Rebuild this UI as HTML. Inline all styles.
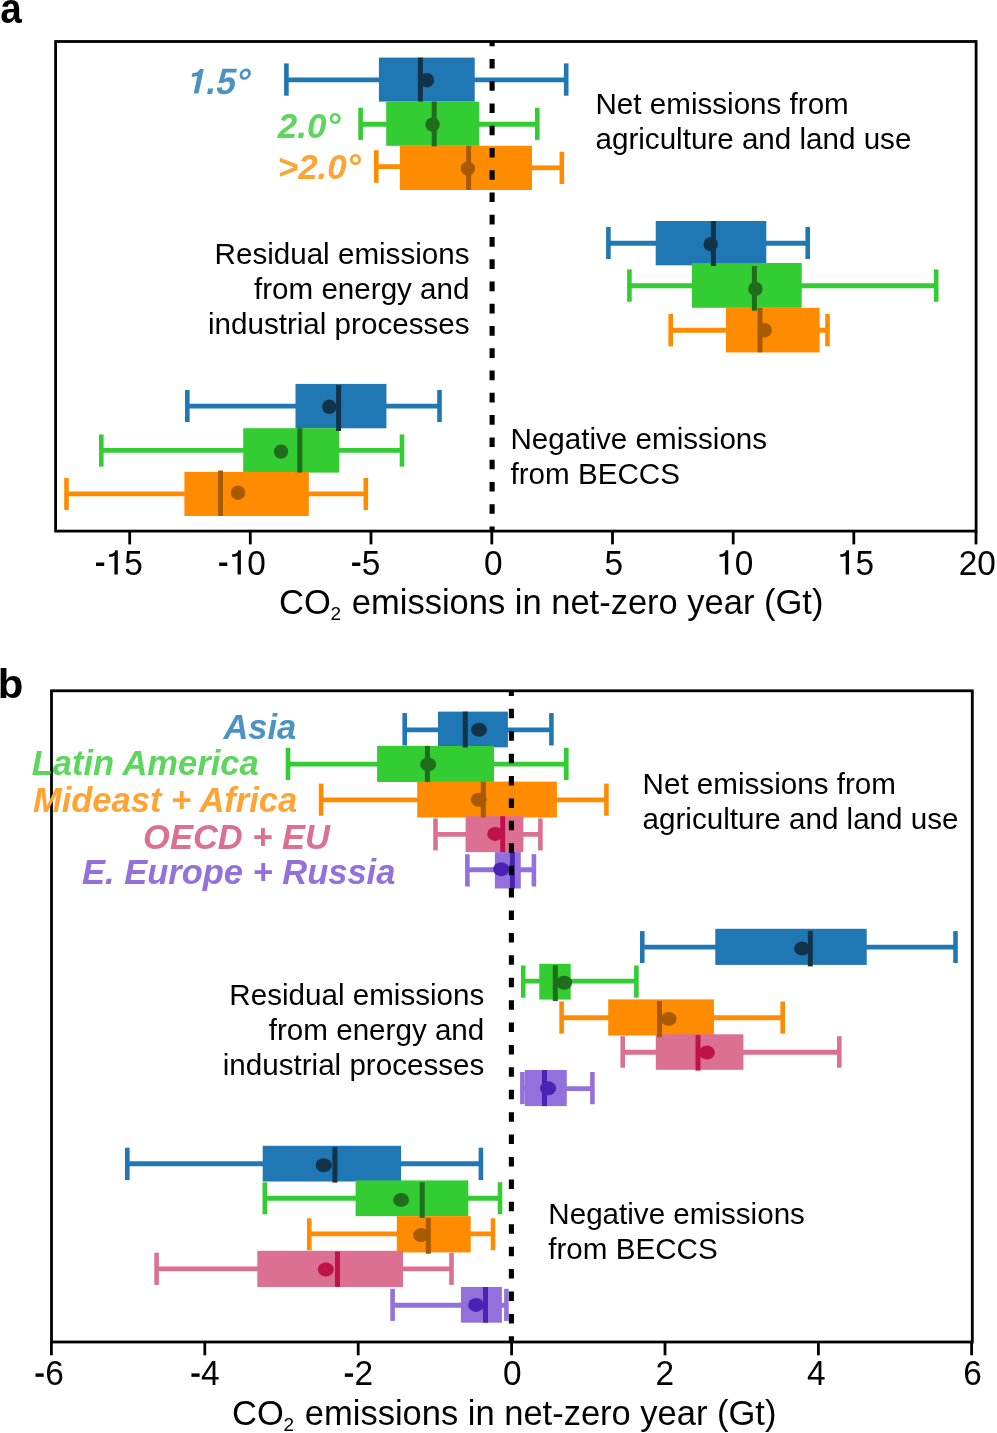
<!DOCTYPE html>
<html><head><meta charset="utf-8"><style>
html,body{margin:0;padding:0;background:#fff;width:997px;height:1433px;overflow:hidden;}
svg{display:block;will-change:transform;}
text{font-family:"Liberation Sans",sans-serif;}
</style></head><body>
<svg width="997" height="1433" viewBox="0 0 997 1433">
<rect width="997" height="1433" fill="#fff"/>
<line x1="286.4" y1="79.85" x2="566.2" y2="79.85" stroke="#1f77b4" stroke-width="4.8"/>
<line x1="286.4" y1="63.4" x2="286.4" y2="95.7" stroke="#1f77b4" stroke-width="4.6"/>
<line x1="566.2" y1="63.4" x2="566.2" y2="95.7" stroke="#1f77b4" stroke-width="4.6"/>
<line x1="360.6" y1="124.25" x2="537.3" y2="124.25" stroke="#33cc33" stroke-width="4.8"/>
<line x1="360.6" y1="107.7" x2="360.6" y2="139.9" stroke="#33cc33" stroke-width="4.6"/>
<line x1="537.3" y1="107.7" x2="537.3" y2="139.9" stroke="#33cc33" stroke-width="4.6"/>
<line x1="376.3" y1="166.6" x2="400.9" y2="166.6" stroke="#ff8c00" stroke-width="4.8"/>
<line x1="531" y1="167.8" x2="561.8" y2="167.8" stroke="#ff8c00" stroke-width="4.8"/>
<line x1="376.3" y1="150.2" x2="376.3" y2="182.8" stroke="#ff8c00" stroke-width="4.6"/>
<line x1="561.8" y1="151.8" x2="561.8" y2="184" stroke="#ff8c00" stroke-width="4.6"/>
<line x1="608.4" y1="243.25" x2="807.7" y2="243.25" stroke="#1f77b4" stroke-width="4.8"/>
<line x1="608.4" y1="227" x2="608.4" y2="259" stroke="#1f77b4" stroke-width="4.6"/>
<line x1="807.7" y1="227" x2="807.7" y2="259" stroke="#1f77b4" stroke-width="4.6"/>
<line x1="629.4" y1="285.75" x2="936.2" y2="285.75" stroke="#33cc33" stroke-width="4.8"/>
<line x1="629.4" y1="269.4" x2="629.4" y2="301.8" stroke="#33cc33" stroke-width="4.6"/>
<line x1="936.2" y1="269.4" x2="936.2" y2="301.8" stroke="#33cc33" stroke-width="4.6"/>
<line x1="670.7" y1="330.25" x2="827.5" y2="330.25" stroke="#ff8c00" stroke-width="4.8"/>
<line x1="670.7" y1="313.9" x2="670.7" y2="346.3" stroke="#ff8c00" stroke-width="4.6"/>
<line x1="827.5" y1="313.9" x2="827.5" y2="346.3" stroke="#ff8c00" stroke-width="4.6"/>
<line x1="187.3" y1="406.05" x2="439.5" y2="406.05" stroke="#1f77b4" stroke-width="4.8"/>
<line x1="187.3" y1="390" x2="187.3" y2="422.1" stroke="#1f77b4" stroke-width="4.6"/>
<line x1="439.5" y1="390" x2="439.5" y2="422.1" stroke="#1f77b4" stroke-width="4.6"/>
<line x1="101.3" y1="450.45" x2="402" y2="450.45" stroke="#33cc33" stroke-width="4.8"/>
<line x1="101.3" y1="434.5" x2="101.3" y2="466.6" stroke="#33cc33" stroke-width="4.6"/>
<line x1="402" y1="434.5" x2="402" y2="466.6" stroke="#33cc33" stroke-width="4.6"/>
<line x1="66.5" y1="493.95" x2="365.8" y2="493.95" stroke="#ff8c00" stroke-width="4.8"/>
<line x1="66.5" y1="477.9" x2="66.5" y2="510.1" stroke="#ff8c00" stroke-width="4.6"/>
<line x1="365.8" y1="477.9" x2="365.8" y2="510.1" stroke="#ff8c00" stroke-width="4.6"/>
<rect x="378.9" y="57.6" width="95.8" height="44" fill="#1f77b4"/>
<rect x="386.2" y="101.6" width="93.1" height="44.2" fill="#33cc33"/>
<rect x="399.9" y="145.8" width="132.1" height="44.2" fill="#ff8c00"/>
<rect x="655.7" y="221" width="110.6" height="44.3" fill="#1f77b4"/>
<rect x="692" y="263" width="109.7" height="44.8" fill="#33cc33"/>
<rect x="725.9" y="307.8" width="93.7" height="44.6" fill="#ff8c00"/>
<rect x="295.5" y="383.9" width="90.9" height="44.4" fill="#1f77b4"/>
<rect x="243.2" y="428.2" width="96" height="44.4" fill="#33cc33"/>
<rect x="184.4" y="471.9" width="124.4" height="44.1" fill="#ff8c00"/>
<line x1="420.4" y1="57.6" x2="420.4" y2="101.6" stroke="#12344b" stroke-width="5.0"/>
<line x1="434.2" y1="101.6" x2="434.2" y2="146.4" stroke="#1e6e1e" stroke-width="5.0"/>
<line x1="468.6" y1="145.8" x2="468.6" y2="190" stroke="#a85a00" stroke-width="5.0"/>
<line x1="713.4" y1="221" x2="713.4" y2="266" stroke="#12344b" stroke-width="5.0"/>
<line x1="754.4" y1="266" x2="754.4" y2="310.7" stroke="#1e6e1e" stroke-width="5.0"/>
<line x1="760" y1="307.8" x2="760" y2="352.4" stroke="#a85a00" stroke-width="5.0"/>
<line x1="338.6" y1="385" x2="338.6" y2="431" stroke="#12344b" stroke-width="5.0"/>
<line x1="299.8" y1="428.2" x2="299.8" y2="472.6" stroke="#1e6e1e" stroke-width="5.0"/>
<line x1="220.5" y1="470.5" x2="220.5" y2="516" stroke="#a85a00" stroke-width="5.0"/>
<ellipse cx="427" cy="80.2" rx="7.2" ry="7.2" fill="#12344b"/>
<ellipse cx="432.6" cy="124.6" rx="7.2" ry="7.2" fill="#1e6e1e"/>
<ellipse cx="467.9" cy="168.6" rx="7.2" ry="7.2" fill="#a85a00"/>
<ellipse cx="710.7" cy="244.2" rx="7.2" ry="7.2" fill="#12344b"/>
<ellipse cx="755.4" cy="288.9" rx="7.2" ry="7.2" fill="#1e6e1e"/>
<ellipse cx="764.7" cy="330.2" rx="7.2" ry="7.2" fill="#a85a00"/>
<ellipse cx="329.3" cy="406.8" rx="7.2" ry="7.2" fill="#12344b"/>
<ellipse cx="281" cy="451.6" rx="7.2" ry="7.2" fill="#1e6e1e"/>
<ellipse cx="238" cy="492.7" rx="7.2" ry="7.2" fill="#a85a00"/>
<line x1="492.1" y1="41.5" x2="492.1" y2="531.1" stroke="#000" stroke-width="5.1" stroke-dasharray="9.6 12.66" stroke-dashoffset="4.8"/>
<rect x="55.6" y="41.5" width="920.5" height="489.6" fill="none" stroke="#000" stroke-width="2.8"/>
<line x1="129.7" y1="531.1" x2="129.7" y2="544.4" stroke="#000" stroke-width="2.8"/>
<line x1="250.3" y1="531.1" x2="250.3" y2="544.4" stroke="#000" stroke-width="2.8"/>
<line x1="371" y1="531.1" x2="371" y2="544.4" stroke="#000" stroke-width="2.8"/>
<line x1="491.8" y1="531.1" x2="491.8" y2="544.4" stroke="#000" stroke-width="2.8"/>
<line x1="612.5" y1="531.1" x2="612.5" y2="544.4" stroke="#000" stroke-width="2.8"/>
<line x1="733.2" y1="531.1" x2="733.2" y2="544.4" stroke="#000" stroke-width="2.8"/>
<line x1="853.8" y1="531.1" x2="853.8" y2="544.4" stroke="#000" stroke-width="2.8"/>
<line x1="976" y1="531.1" x2="976" y2="544.4" stroke="#000" stroke-width="2.8"/>
<g transform="translate(0 574.5) scale(1 1.035)"><rect x="96.04" y="-11.56" width="8.18" height="3.34"/>
<path d="M114.44 0 L117.78 0 L117.78 -23.48 L115.31 -23.48 C114.78 -21.38 113.24 -19.71 109.06 -19.51 L109.06 -17.03 C112.24 -17.17 113.84 -17.64 114.44 -18.44 Z"/>
<text x="124.26" y="0" font-family="Liberation Sans" font-size="33.4">5</text>
<rect x="219.14" y="-11.56" width="8.18" height="3.34"/>
<path d="M237.54 0 L240.88 0 L240.88 -23.48 L238.41 -23.48 C237.88 -21.38 236.34 -19.71 232.16 -19.51 L232.16 -17.03 C235.34 -17.17 236.94 -17.64 237.54 -18.44 Z"/>
<text x="247.36" y="0" font-family="Liberation Sans" font-size="33.4">0</text>
<rect x="352.12" y="-11.56" width="8.18" height="3.34"/>
<text x="361.78" y="0" font-family="Liberation Sans" font-size="33.4">5</text>
<text x="484.01" y="0" font-family="Liberation Sans" font-size="33.4">0</text>
<text x="604.41" y="0" font-family="Liberation Sans" font-size="33.4">5</text>
<path d="M724.88 0 L728.22 0 L728.22 -23.48 L725.75 -23.48 C725.21 -21.38 723.68 -19.71 719.5 -19.51 L719.5 -17.03 C722.68 -17.17 724.28 -17.64 724.88 -18.44 Z"/>
<text x="734.7" y="0" font-family="Liberation Sans" font-size="33.4">0</text>
<path d="M845.68 0 L849.02 0 L849.02 -23.48 L846.55 -23.48 C846.01 -21.38 844.48 -19.71 840.3 -19.51 L840.3 -17.03 C843.48 -17.17 845.08 -17.64 845.68 -18.44 Z"/>
<text x="855.5" y="0" font-family="Liberation Sans" font-size="33.4">5</text>
<text x="958.63" y="0" font-family="Liberation Sans" font-size="33.4">2</text>
<text x="977.2" y="0" font-family="Liberation Sans" font-size="33.4">0</text></g>
<text y="613.7" font-family="Liberation Sans" font-size="34.5"><tspan x="279">CO</tspan><tspan x="330.6" y="620.1" font-size="19">2</tspan><tspan x="351.8" y="613.7">emissions in net-zero year (Gt)</tspan></text>
<text x="595.5" y="113.6" font-family="Liberation Sans" font-size="29.6" text-anchor="start">Net emissions from</text>
<text x="595.5" y="148.6" font-family="Liberation Sans" font-size="29.6" text-anchor="start">agriculture and land use</text>
<text x="469.5" y="263.7" font-family="Liberation Sans" font-size="29.6" text-anchor="end">Residual emissions</text>
<text x="469.5" y="298.7" font-family="Liberation Sans" font-size="29.6" text-anchor="end">from energy and</text>
<text x="469.5" y="333.7" font-family="Liberation Sans" font-size="29.6" text-anchor="end">industrial processes</text>
<text x="510.5" y="449.3" font-family="Liberation Sans" font-size="29.6" text-anchor="start">Negative emissions</text>
<text x="510.5" y="484.3" font-family="Liberation Sans" font-size="29.6" text-anchor="start">from BECCS</text>
<g transform="translate(184.3 93.6) skewX(-12)" fill="rgb(76,146,195)"><path d="M9.35 0 L14.25 0 L14.25 -24.71 L10.33 -24.71 C9.73 -22.4 8.12 -20.72 3.82 -20.51 L3.82 -16.66 C6.65 -16.8 8.47 -17.15 9.35 -17.78 Z"/><text transform="scale(1 1.045)" x="20.46" y="0" font-family="Liberation Sans" font-weight="bold" font-size="35">.5°</text></g>
<g transform="translate(0 137.7) scale(1 1.0)"><text x="340.4" y="0" font-family="Liberation Sans" font-weight="bold" font-style="italic" font-size="35" text-anchor="end" fill="rgb(92,214,92)">2.0°</text></g>
<g transform="translate(0 179) scale(1 1.0)"><text x="360.8" y="0" font-family="Liberation Sans" font-weight="bold" font-style="italic" font-size="35" text-anchor="end" fill="rgb(255,163,51)">&gt;2.0°</text></g>
<text transform="translate(0.3 23.2) scale(0.92 1.015)" x="0" y="0" font-family="Liberation Sans" font-weight="bold" font-size="42">a</text>
<line x1="404.7" y1="729.85" x2="551.4" y2="729.85" stroke="#1f77b4" stroke-width="4.8"/>
<line x1="404.7" y1="713.1" x2="404.7" y2="745.5" stroke="#1f77b4" stroke-width="4.6"/>
<line x1="551.4" y1="713.1" x2="551.4" y2="745.5" stroke="#1f77b4" stroke-width="4.6"/>
<line x1="288" y1="764.05" x2="566.3" y2="764.05" stroke="#33cc33" stroke-width="4.8"/>
<line x1="288" y1="747.8" x2="288" y2="780" stroke="#33cc33" stroke-width="4.6"/>
<line x1="566.3" y1="747.8" x2="566.3" y2="780" stroke="#33cc33" stroke-width="4.6"/>
<line x1="321.1" y1="799.85" x2="606.4" y2="799.85" stroke="#ff8c00" stroke-width="4.8"/>
<line x1="321.1" y1="783.6" x2="321.1" y2="815.8" stroke="#ff8c00" stroke-width="4.6"/>
<line x1="606.4" y1="783.6" x2="606.4" y2="815.8" stroke="#ff8c00" stroke-width="4.6"/>
<line x1="435.5" y1="834.45" x2="540.4" y2="834.45" stroke="#db7093" stroke-width="4.8"/>
<line x1="435.5" y1="818.4" x2="435.5" y2="850.4" stroke="#db7093" stroke-width="4.6"/>
<line x1="540.4" y1="818.4" x2="540.4" y2="850.4" stroke="#db7093" stroke-width="4.6"/>
<line x1="467.4" y1="869.75" x2="533.9" y2="869.75" stroke="#9370db" stroke-width="4.8"/>
<line x1="467.4" y1="854.2" x2="467.4" y2="886.5" stroke="#9370db" stroke-width="4.6"/>
<line x1="533.9" y1="854.2" x2="533.9" y2="886.5" stroke="#9370db" stroke-width="4.6"/>
<line x1="642.3" y1="947.15" x2="955.5" y2="947.15" stroke="#1f77b4" stroke-width="4.8"/>
<line x1="642.3" y1="931.1" x2="642.3" y2="963" stroke="#1f77b4" stroke-width="4.6"/>
<line x1="955.5" y1="931.1" x2="955.5" y2="963" stroke="#1f77b4" stroke-width="4.6"/>
<line x1="523.2" y1="981.15" x2="636.4" y2="981.15" stroke="#33cc33" stroke-width="4.8"/>
<line x1="523.2" y1="965.5" x2="523.2" y2="997.7" stroke="#33cc33" stroke-width="4.6"/>
<line x1="636.4" y1="965.5" x2="636.4" y2="997.7" stroke="#33cc33" stroke-width="4.6"/>
<line x1="561.6" y1="1017.75" x2="782.7" y2="1017.75" stroke="#ff8c00" stroke-width="4.8"/>
<line x1="561.6" y1="1001.5" x2="561.6" y2="1033.7" stroke="#ff8c00" stroke-width="4.6"/>
<line x1="782.7" y1="1001.5" x2="782.7" y2="1033.7" stroke="#ff8c00" stroke-width="4.6"/>
<line x1="622.7" y1="1052.25" x2="839.3" y2="1052.25" stroke="#db7093" stroke-width="4.8"/>
<line x1="622.7" y1="1036.2" x2="622.7" y2="1067.7" stroke="#db7093" stroke-width="4.6"/>
<line x1="839.3" y1="1036.2" x2="839.3" y2="1067.7" stroke="#db7093" stroke-width="4.6"/>
<line x1="522.4" y1="1088.55" x2="592.4" y2="1088.55" stroke="#9370db" stroke-width="4.8"/>
<line x1="522.4" y1="1072" x2="522.4" y2="1104.2" stroke="#9370db" stroke-width="4.6"/>
<line x1="592.4" y1="1072" x2="592.4" y2="1104.2" stroke="#9370db" stroke-width="4.6"/>
<line x1="127.3" y1="1163.75" x2="480.9" y2="1163.75" stroke="#1f77b4" stroke-width="4.8"/>
<line x1="127.3" y1="1147.7" x2="127.3" y2="1180.1" stroke="#1f77b4" stroke-width="4.6"/>
<line x1="480.9" y1="1147.7" x2="480.9" y2="1180.1" stroke="#1f77b4" stroke-width="4.6"/>
<line x1="264.8" y1="1198.25" x2="500" y2="1198.25" stroke="#33cc33" stroke-width="4.8"/>
<line x1="264.8" y1="1182.3" x2="264.8" y2="1214.3" stroke="#33cc33" stroke-width="4.6"/>
<line x1="500" y1="1182.3" x2="500" y2="1214.3" stroke="#33cc33" stroke-width="4.6"/>
<line x1="309.3" y1="1233.95" x2="493" y2="1233.95" stroke="#ff8c00" stroke-width="4.8"/>
<line x1="309.3" y1="1218.3" x2="309.3" y2="1250.3" stroke="#ff8c00" stroke-width="4.6"/>
<line x1="493" y1="1218.3" x2="493" y2="1250.3" stroke="#ff8c00" stroke-width="4.6"/>
<line x1="156.6" y1="1268.85" x2="451.5" y2="1268.85" stroke="#db7093" stroke-width="4.8"/>
<line x1="156.6" y1="1252.7" x2="156.6" y2="1284.9" stroke="#db7093" stroke-width="4.6"/>
<line x1="451.5" y1="1252.7" x2="451.5" y2="1284.9" stroke="#db7093" stroke-width="4.6"/>
<line x1="392.6" y1="1305.25" x2="506.4" y2="1305.25" stroke="#9370db" stroke-width="4.8"/>
<line x1="392.6" y1="1288.8" x2="392.6" y2="1320.9" stroke="#9370db" stroke-width="4.6"/>
<line x1="506.4" y1="1288.8" x2="506.4" y2="1320.9" stroke="#9370db" stroke-width="4.6"/>
<rect x="438" y="711.6" width="69.9" height="35.8" fill="#1f77b4"/>
<rect x="377.1" y="745.9" width="116.9" height="36.1" fill="#33cc33"/>
<rect x="417.2" y="781.6" width="139.7" height="35.9" fill="#ff8c00"/>
<rect x="465.6" y="816.2" width="57.8" height="35.9" fill="#db7093"/>
<rect x="494.9" y="852.1" width="25.9" height="36.4" fill="#9370db"/>
<rect x="715.3" y="928.8" width="151.4" height="36.1" fill="#1f77b4"/>
<rect x="539.3" y="963.8" width="31.4" height="35.8" fill="#33cc33"/>
<rect x="608.2" y="999.4" width="105.8" height="36.1" fill="#ff8c00"/>
<rect x="655.8" y="1034.3" width="87.6" height="35.5" fill="#db7093"/>
<rect x="524.9" y="1070" width="41.9" height="36.1" fill="#9370db"/>
<rect x="262.7" y="1145.8" width="138.4" height="35.7" fill="#1f77b4"/>
<rect x="355.6" y="1180.4" width="112.7" height="35.7" fill="#33cc33"/>
<rect x="396.8" y="1216.1" width="73.9" height="36.3" fill="#ff8c00"/>
<rect x="257.3" y="1250.8" width="145.7" height="36.2" fill="#db7093"/>
<rect x="460.9" y="1287" width="41" height="35.7" fill="#9370db"/>
<line x1="465.3" y1="711.6" x2="465.3" y2="747.4" stroke="#12344b" stroke-width="5.0"/>
<line x1="427.4" y1="745.9" x2="427.4" y2="782" stroke="#1e6e1e" stroke-width="5.0"/>
<line x1="483.3" y1="781.6" x2="483.3" y2="817.5" stroke="#a85a00" stroke-width="5.0"/>
<line x1="502.7" y1="816.2" x2="502.7" y2="852.1" stroke="#bf124a" stroke-width="5.0"/>
<line x1="512.4" y1="852.1" x2="512.4" y2="888.5" stroke="#4a22b4" stroke-width="5.0"/>
<line x1="810.3" y1="930.8" x2="810.3" y2="966.4" stroke="#12344b" stroke-width="5.0"/>
<line x1="555.3" y1="965.3" x2="555.3" y2="1001" stroke="#1e6e1e" stroke-width="5.0"/>
<line x1="659.5" y1="1001" x2="659.5" y2="1037.3" stroke="#a85a00" stroke-width="5.0"/>
<line x1="698" y1="1035.1" x2="698" y2="1070.6" stroke="#bf124a" stroke-width="5.0"/>
<line x1="544.5" y1="1070" x2="544.5" y2="1106.1" stroke="#4a22b4" stroke-width="5.0"/>
<line x1="334.9" y1="1147.1" x2="334.9" y2="1182.6" stroke="#12344b" stroke-width="5.0"/>
<line x1="422.2" y1="1182.2" x2="422.2" y2="1217.9" stroke="#1e6e1e" stroke-width="5.0"/>
<line x1="428.3" y1="1217.9" x2="428.3" y2="1253.8" stroke="#a85a00" stroke-width="5.0"/>
<line x1="337.5" y1="1251.6" x2="337.5" y2="1287" stroke="#bf124a" stroke-width="5.0"/>
<line x1="485.5" y1="1287" x2="485.5" y2="1322.7" stroke="#4a22b4" stroke-width="5.0"/>
<ellipse cx="479" cy="729.7" rx="8" ry="7" fill="#12344b"/>
<ellipse cx="428.2" cy="764.4" rx="8" ry="7" fill="#1e6e1e"/>
<ellipse cx="478.8" cy="799.7" rx="8" ry="7" fill="#a85a00"/>
<ellipse cx="495.2" cy="833.9" rx="8" ry="7" fill="#bf124a"/>
<ellipse cx="501.2" cy="869.2" rx="8" ry="7" fill="#4a22b4"/>
<ellipse cx="802" cy="948.6" rx="8" ry="7" fill="#12344b"/>
<ellipse cx="564.2" cy="982.7" rx="8" ry="7" fill="#1e6e1e"/>
<ellipse cx="668.6" cy="1018.9" rx="8" ry="7" fill="#a85a00"/>
<ellipse cx="706.9" cy="1052.6" rx="8" ry="7" fill="#bf124a"/>
<ellipse cx="548.1" cy="1088.3" rx="8" ry="7" fill="#4a22b4"/>
<ellipse cx="323.7" cy="1165.2" rx="8" ry="7" fill="#12344b"/>
<ellipse cx="401.1" cy="1199.9" rx="8" ry="7" fill="#1e6e1e"/>
<ellipse cx="421.1" cy="1235.1" rx="8" ry="7" fill="#a85a00"/>
<ellipse cx="325.8" cy="1269.5" rx="8" ry="7" fill="#bf124a"/>
<ellipse cx="476.1" cy="1304.9" rx="8" ry="7" fill="#4a22b4"/>
<line x1="511.4" y1="690.8" x2="511.4" y2="1342" stroke="#000" stroke-width="5.1" stroke-dasharray="9.5 12.91" stroke-dashoffset="4.4"/>
<rect x="51.5" y="690.8" width="920.8" height="651.2" fill="none" stroke="#000" stroke-width="2.8"/>
<line x1="51.4" y1="1342" x2="51.4" y2="1355.3" stroke="#000" stroke-width="2.8"/>
<line x1="204.8" y1="1342" x2="204.8" y2="1355.3" stroke="#000" stroke-width="2.8"/>
<line x1="358.2" y1="1342" x2="358.2" y2="1355.3" stroke="#000" stroke-width="2.8"/>
<line x1="511.6" y1="1342" x2="511.6" y2="1355.3" stroke="#000" stroke-width="2.8"/>
<line x1="665" y1="1342" x2="665" y2="1355.3" stroke="#000" stroke-width="2.8"/>
<line x1="818.4" y1="1342" x2="818.4" y2="1355.3" stroke="#000" stroke-width="2.8"/>
<line x1="971.6" y1="1342" x2="971.6" y2="1355.3" stroke="#000" stroke-width="2.8"/>
<g transform="translate(0 1385.4) scale(1 1.04)"><rect x="35.52" y="-11.56" width="8.18" height="3.34"/>
<text x="45.18" y="0" font-family="Liberation Sans" font-size="33.4">6</text>
<rect x="191.42" y="-11.56" width="8.18" height="3.34"/>
<text x="201.08" y="0" font-family="Liberation Sans" font-size="33.4">4</text>
<rect x="344.82" y="-11.56" width="8.18" height="3.34"/>
<text x="354.48" y="0" font-family="Liberation Sans" font-size="33.4">2</text>
<text x="503.11" y="0" font-family="Liberation Sans" font-size="33.4">0</text>
<text x="655.41" y="0" font-family="Liberation Sans" font-size="33.4">2</text>
<text x="807.11" y="0" font-family="Liberation Sans" font-size="33.4">4</text>
<text x="963.31" y="0" font-family="Liberation Sans" font-size="33.4">6</text></g>
<text y="1424.8" font-family="Liberation Sans" font-size="34.5"><tspan x="232">CO</tspan><tspan x="283.6" y="1431.2" font-size="19">2</tspan><tspan x="304.8" y="1424.8">emissions in net-zero year (Gt)</tspan></text>
<text x="642.6" y="794" font-family="Liberation Sans" font-size="29.6" text-anchor="start">Net emissions from</text>
<text x="642.6" y="828.9" font-family="Liberation Sans" font-size="29.6" text-anchor="start">agriculture and land use</text>
<text x="484.3" y="1005.1" font-family="Liberation Sans" font-size="29.6" text-anchor="end">Residual emissions</text>
<text x="484.3" y="1040.1" font-family="Liberation Sans" font-size="29.6" text-anchor="end">from energy and</text>
<text x="484.3" y="1075.1" font-family="Liberation Sans" font-size="29.6" text-anchor="end">industrial processes</text>
<text x="548.3" y="1224.2" font-family="Liberation Sans" font-size="29.6" text-anchor="start">Negative emissions</text>
<text x="548.3" y="1259.2" font-family="Liberation Sans" font-size="29.6" text-anchor="start">from BECCS</text>
<g transform="translate(0 738.7) scale(1 1.04)"><text x="296.3" y="0" font-family="Liberation Sans" font-weight="bold" font-style="italic" font-size="34.5" text-anchor="end" fill="rgb(76,146,195)">Asia</text></g>
<g transform="translate(0 774.7) scale(1 1.04)"><text x="258.6" y="0" font-family="Liberation Sans" font-weight="bold" font-style="italic" font-size="34.5" text-anchor="end" fill="rgb(92,214,92)">Latin America</text></g>
<g transform="translate(0 812) scale(1 1.04)"><text x="297.2" y="0" font-family="Liberation Sans" font-weight="bold" font-style="italic" font-size="34.5" text-anchor="end" fill="rgb(255,163,51)">Mideast + Africa</text></g>
<g transform="translate(0 848.9) scale(1 1.04)"><text x="330" y="0" font-family="Liberation Sans" font-weight="bold" font-style="italic" font-size="34.5" text-anchor="end" fill="#db7093">OECD + EU</text></g>
<g transform="translate(0 884.2) scale(1 1.04)"><text x="395.4" y="0" font-family="Liberation Sans" font-weight="bold" font-style="italic" font-size="34.5" text-anchor="end" fill="#9370db">E. Europe + Russia</text></g>
<text transform="translate(-2.3 697.7) scale(1 0.97)" x="0" y="0" font-family="Liberation Sans" font-weight="bold" font-size="42">b</text>
</svg>
</body></html>
